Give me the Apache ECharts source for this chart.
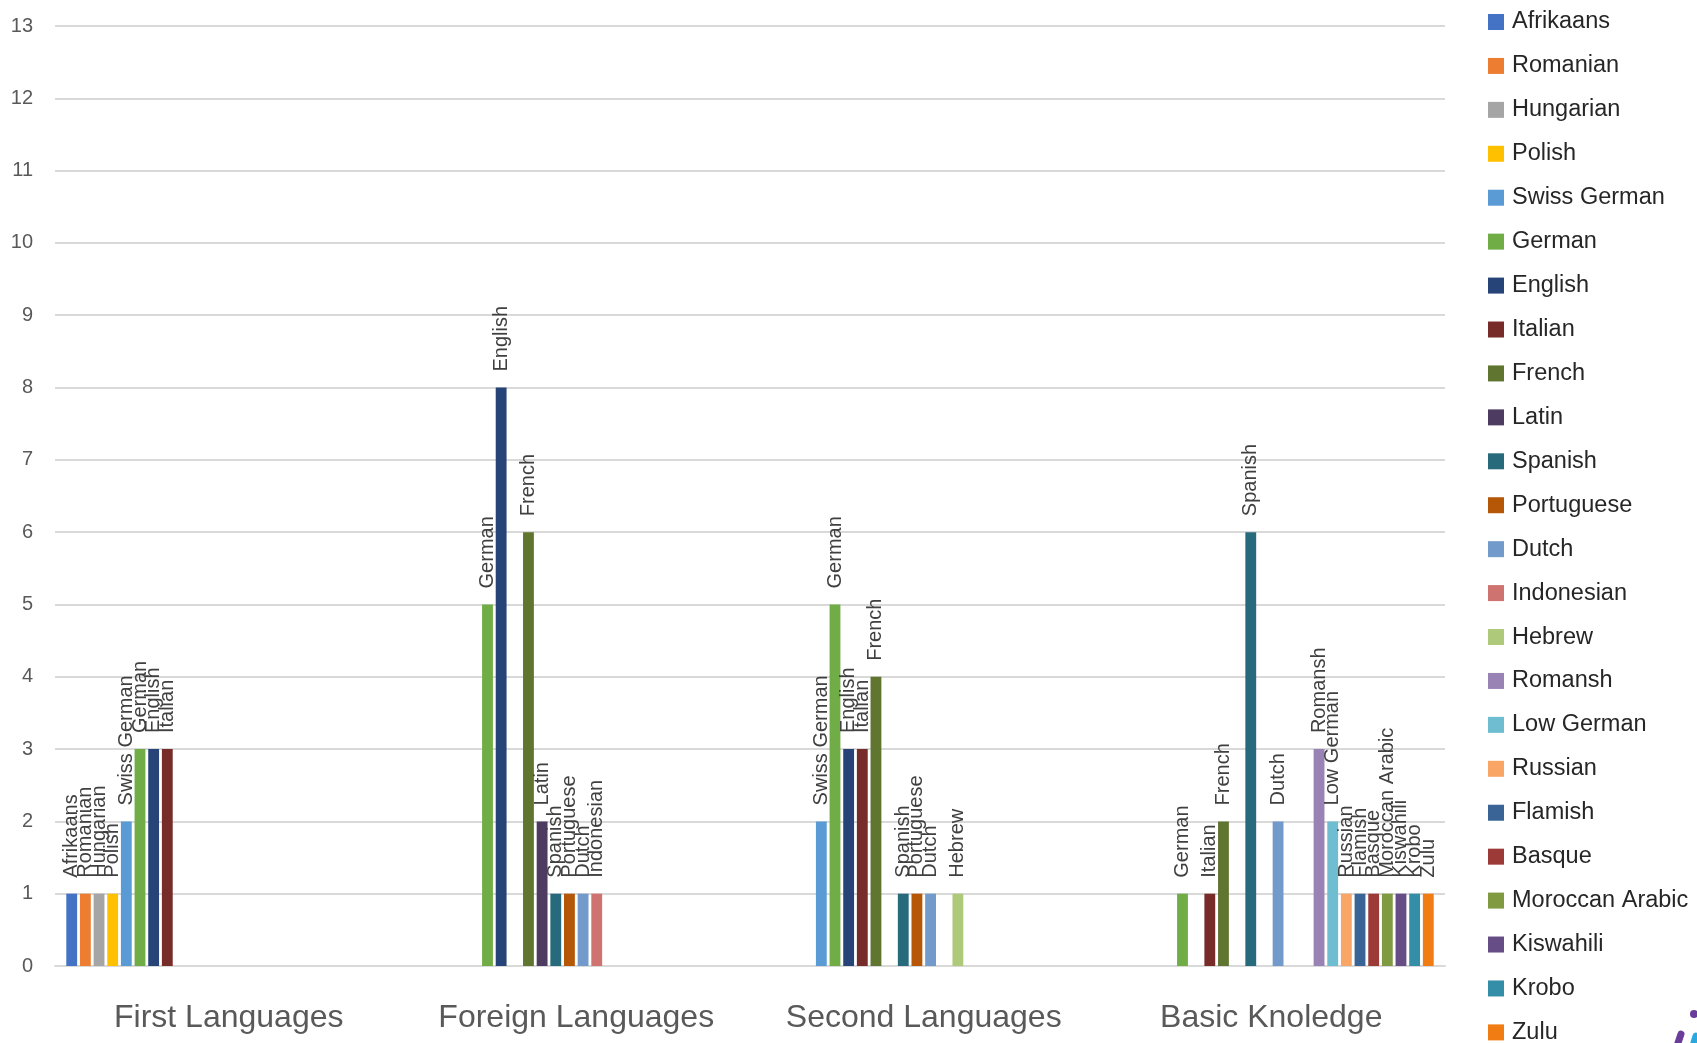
<!DOCTYPE html>
<html>
<head>
<meta charset="utf-8">
<title>Languages</title>
<script src="https://cdn.jsdelivr.net/npm/echarts@6/dist/echarts.min.js"></script>
<style>
  html, body { margin: 0; padding: 0; background: #ffffff; }
  #chart { width: 1697px; height: 1043px; }
</style>
</head>
<body>
<div id="chart"></div>
<script>
// Groups along the x axis
const categories = ['First Languages', 'Foreign Languages', 'Second Languages', 'Basic Knoledge'];

// One series per language, in legend order
const languages = [
  'Afrikaans', 'Romanian', 'Hungarian', 'Polish', 'Swiss German', 'German',
  'English', 'Italian', 'French', 'Latin', 'Spanish', 'Portuguese', 'Dutch',
  'Indonesian', 'Hebrew', 'Romansh', 'Low German', 'Russian', 'Flamish',
  'Basque', 'Moroccan Arabic', 'Kiswahili', 'Krobo', 'Zulu'
];

const languageColors = [
  '#4472C4', '#ED7D31', '#A5A5A5', '#FFC000', '#5B9BD5', '#70AD47',
  '#264478', '#772C2A', '#5F7530', '#4D3B62', '#276A7C', '#B65708', '#729ACA',
  '#CE7370', '#AFC97A', '#9983B5', '#6FBDD1', '#F9A566', '#3A6496',
  '#9C3A38', '#7F9A41', '#664D86', '#358EA8', '#F27C14'
];

// Counts per group, aligned with `languages` (null = not mentioned)
const firstLanguages = [1, 1, 1, 1, 2, 3, 3, 3, null, null, null, null, null, null, null, null, null, null, null, null, null, null, null, null];
const foreignLanguages = [null, null, null, null, null, 5, 8, null, 6, 2, 1, 1, 1, 1, null, null, null, null, null, null, null, null, null, null];
const secondLanguages = [null, null, null, null, 2, 5, 3, 3, 4, null, 1, 1, 1, null, 1, null, null, null, null, null, null, null, null, null];
const basicKnowledge = [null, null, null, null, null, 1, null, 1, 2, null, 6, null, 2, null, null, 3, 2, 1, 1, 1, 1, 1, 1, 1];

const yTicks = [0, 1, 2, 3, 4, 5, 6, 7, 8, 9, 10, 11, 12, 13];

const groups = [firstLanguages, foreignLanguages, secondLanguages, basicKnowledge];

const FONT = '"Liberation Sans", Arial, sans-serif';

const series = languages.map((name, i) => ({
  name: name,
  type: 'bar',
  data: groups.map(g => g[i]),
  itemStyle: { color: languageColors[i] },
  barGap: '26%',
  barCategoryGap: '6.5%',
  label: {
    show: true,
    position: 'top',
    rotate: 90,
    align: 'left',
    verticalAlign: 'middle',
    distance: 16,
    formatter: '{a}',
    fontFamily: FONT,
    fontSize: 20,
    color: '#404040'
  },
  emphasis: { disabled: true }
}));

const chart = echarts.init(document.getElementById('chart'), null, { renderer: 'canvas' });

chart.setOption({
  backgroundColor: '#ffffff',
  animation: false,
  grid: { left: 55, right: 252, top: 26, bottom: 77, containLabel: false },
  legend: {
    orient: 'vertical',
    left: 1488,
    top: 10,
    height: 1042,
    padding: 0,
    itemWidth: 16,
    itemHeight: 16,
    itemGap: 19.93,
    icon: 'rect',
    data: languages,
    textStyle: { fontFamily: FONT, fontSize: 23.5, color: '#262626', padding: [0, 0, 0, 3] }
  },
  xAxis: {
    type: 'category',
    data: categories,
    axisLine: { show: true, lineStyle: { color: '#D9D9D9', width: 2 } },
    axisTick: { show: false },
    axisLabel: { interval: 0, fontFamily: FONT, fontSize: 32, color: '#595959', margin: 36 }
  },
  yAxis: {
    type: 'value',
    min: yTicks[0],
    max: yTicks[yTicks.length - 1],
    interval: 1,
    axisLine: { show: false },
    axisTick: { show: false },
    splitLine: { lineStyle: { color: '#D9D9D9', width: 2 } },
    axisLabel: { fontFamily: FONT, fontSize: 20, color: '#595959', margin: 22 }
  },
  series: series,
  graphic: [
    { type: 'circle', shape: { cx: 1694, cy: 1014, r: 4 }, style: { fill: '#6A3D9A' } },
    { type: 'line', shape: { x1: 1681, y1: 1034, x2: 1677, y2: 1046 }, style: { stroke: '#6A3D9A', lineWidth: 7, lineCap: 'round' } },
    { type: 'line', shape: { x1: 1696, y1: 1036, x2: 1693, y2: 1046 }, style: { stroke: '#29A9E0', lineWidth: 7, lineCap: 'round' } }
  ]
});
</script>
</body>
</html>
